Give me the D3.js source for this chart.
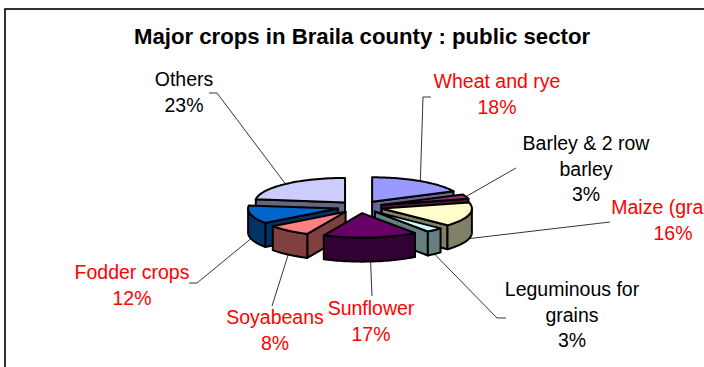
<!DOCTYPE html>
<html><head><meta charset="utf-8">
<script src="https://cdnjs.cloudflare.com/ajax/libs/d3/7.8.5/d3.min.js"></script>
<style>html,body{margin:0;padding:0;background:#fff;overflow:hidden}svg{display:block}text{font-family:"Liberation Sans",Arial,sans-serif}</style>
</head><body><svg id="c" width="704" height="367"></svg>
<script>
const title = "Major crops in Braila county : public sector";
const categories = ["Wheat and rye","Barley & 2 row barley","Maize (grains)","Leguminous for grains","Sunflower","Soyabeans","Fodder crops","Others"];
const shares = [18,3,16,3,17,8,12,23];

const topColors = ["#9999FF","#993366","#FFFFCC","#CCFFFF","#660066","#FF8080","#0066CC","#CCCCFF"];
const sideColors = ["#666699","#4D1A33","#808066","#668080","#330033","#804040","#003366","#666680"];
const labelColors = ["#FF0000","#000000","#FF0000","#000000","#FF0000","#FF0000","#FF0000","#000000"];
const labelLines = [["Wheat and rye"],["Barley & 2 row","barley"],["Maize (grains)"],["Leguminous for","grains"],["Sunflower"],["Soyabeans"],["Fodder crops"],["Others"]];
const labelPos = [[497,88],[586,150],[673,214],[572,296],[371,315],[275,324],[132,279],[184,86]];
const leaderEnd = [[[431,97],[423,97]],[[516,168]],[[610,222]],[[506,318],[497,318]],[[372,296]],[[272,306]],[[189,283],[197,283]],[[209,93],[217,93]]];

const cx=360, cy=207, rx=90, ry=24.5, depth=24, explode=22.6, vr=24/88;
const svg=d3.select("#c");
svg.append("rect").attr("x",5).attr("y",9).attr("width",720).attr("height",380)
  .attr("fill","#fff").attr("stroke","#000").attr("stroke-width",1.6);
svg.append("text").attr("x",362).attr("y",44).attr("text-anchor","middle")
  .attr("font-size",22.2).attr("font-weight","bold").attr("fill","#000").text(title);

const arcs=d3.pie().sort(null)(shares);
const pt=(o,a)=>[o[0]+rx*Math.sin(a),o[1]-ry*Math.cos(a)];
const slices=arcs.map((d,i)=>{
  const mid=(d.startAngle+d.endAngle)/2;
  const o=[cx+explode*Math.sin(mid),cy-explode*vr*Math.cos(mid)];
  return {d,i,mid,o};
});
const rimPath=(o,a0,a1,dy=0)=>d3.range(0,41).map(k=>{const a=a0+(a1-a0)*k/40;const p=pt(o,a);return [p[0],p[1]+dy];});
const line=d3.line();
arcs.forEach((d,i)=>{
  const s=slices[i],p=pt(s.o,s.mid);
  const a=[p[0],p[1]+(Math.cos(s.mid)<0?depth:0)];
  svg.append("path").attr("d",line([a,...leaderEnd[i].slice().reverse()]))
    .attr("fill","none").attr("stroke","#000").attr("stroke-width",0.8);
});
const g=svg.append("g").attr("stroke","#000").attr("stroke-width",2).attr("stroke-linejoin","round");
const key=s=>s.o[1]+Math.max(0,-Math.cos(s.mid))*ry*1.2;
slices.slice().sort((a,b)=>key(a)-key(b)).forEach(s=>{
  const {d,i,o}=s, a0=d.startAngle, a1=d.endAngle;
  const side=sideColors[i], top=topColors[i];
  const wall=a=>{const p=pt(o,a);
    g.append("path").attr("d",line([o,p,[p[0],p[1]+depth],[o[0],o[1]+depth]])+"Z").attr("fill",side);};
  if(Math.sin(a0)<0) wall(a0);
  if(Math.sin(a1)>0) wall(a1);
  const vis0=Math.max(a0,Math.PI/2), vis1=Math.min(a1,Math.PI*1.5);
  if(vis1>vis0){
    g.append("path").attr("d",line(rimPath(o,vis0,vis1).concat(rimPath(o,vis1,vis0,depth)))+"Z").attr("fill",side);
  }
  g.append("path").attr("d",line([o,...rimPath(o,a0,a1)])+"Z").attr("fill",top);
});
categories.forEach((c,i)=>{
  const t=svg.append("text").attr("text-anchor","middle").attr("font-size",19.5).attr("fill",labelColors[i]);
  labelLines[i].concat([shares[i]+"%"]).forEach((l,k)=>t.append("tspan").attr("x",labelPos[i][0]).attr("y",labelPos[i][1]+k*25.7).text(l));
});
</script></body></html>
